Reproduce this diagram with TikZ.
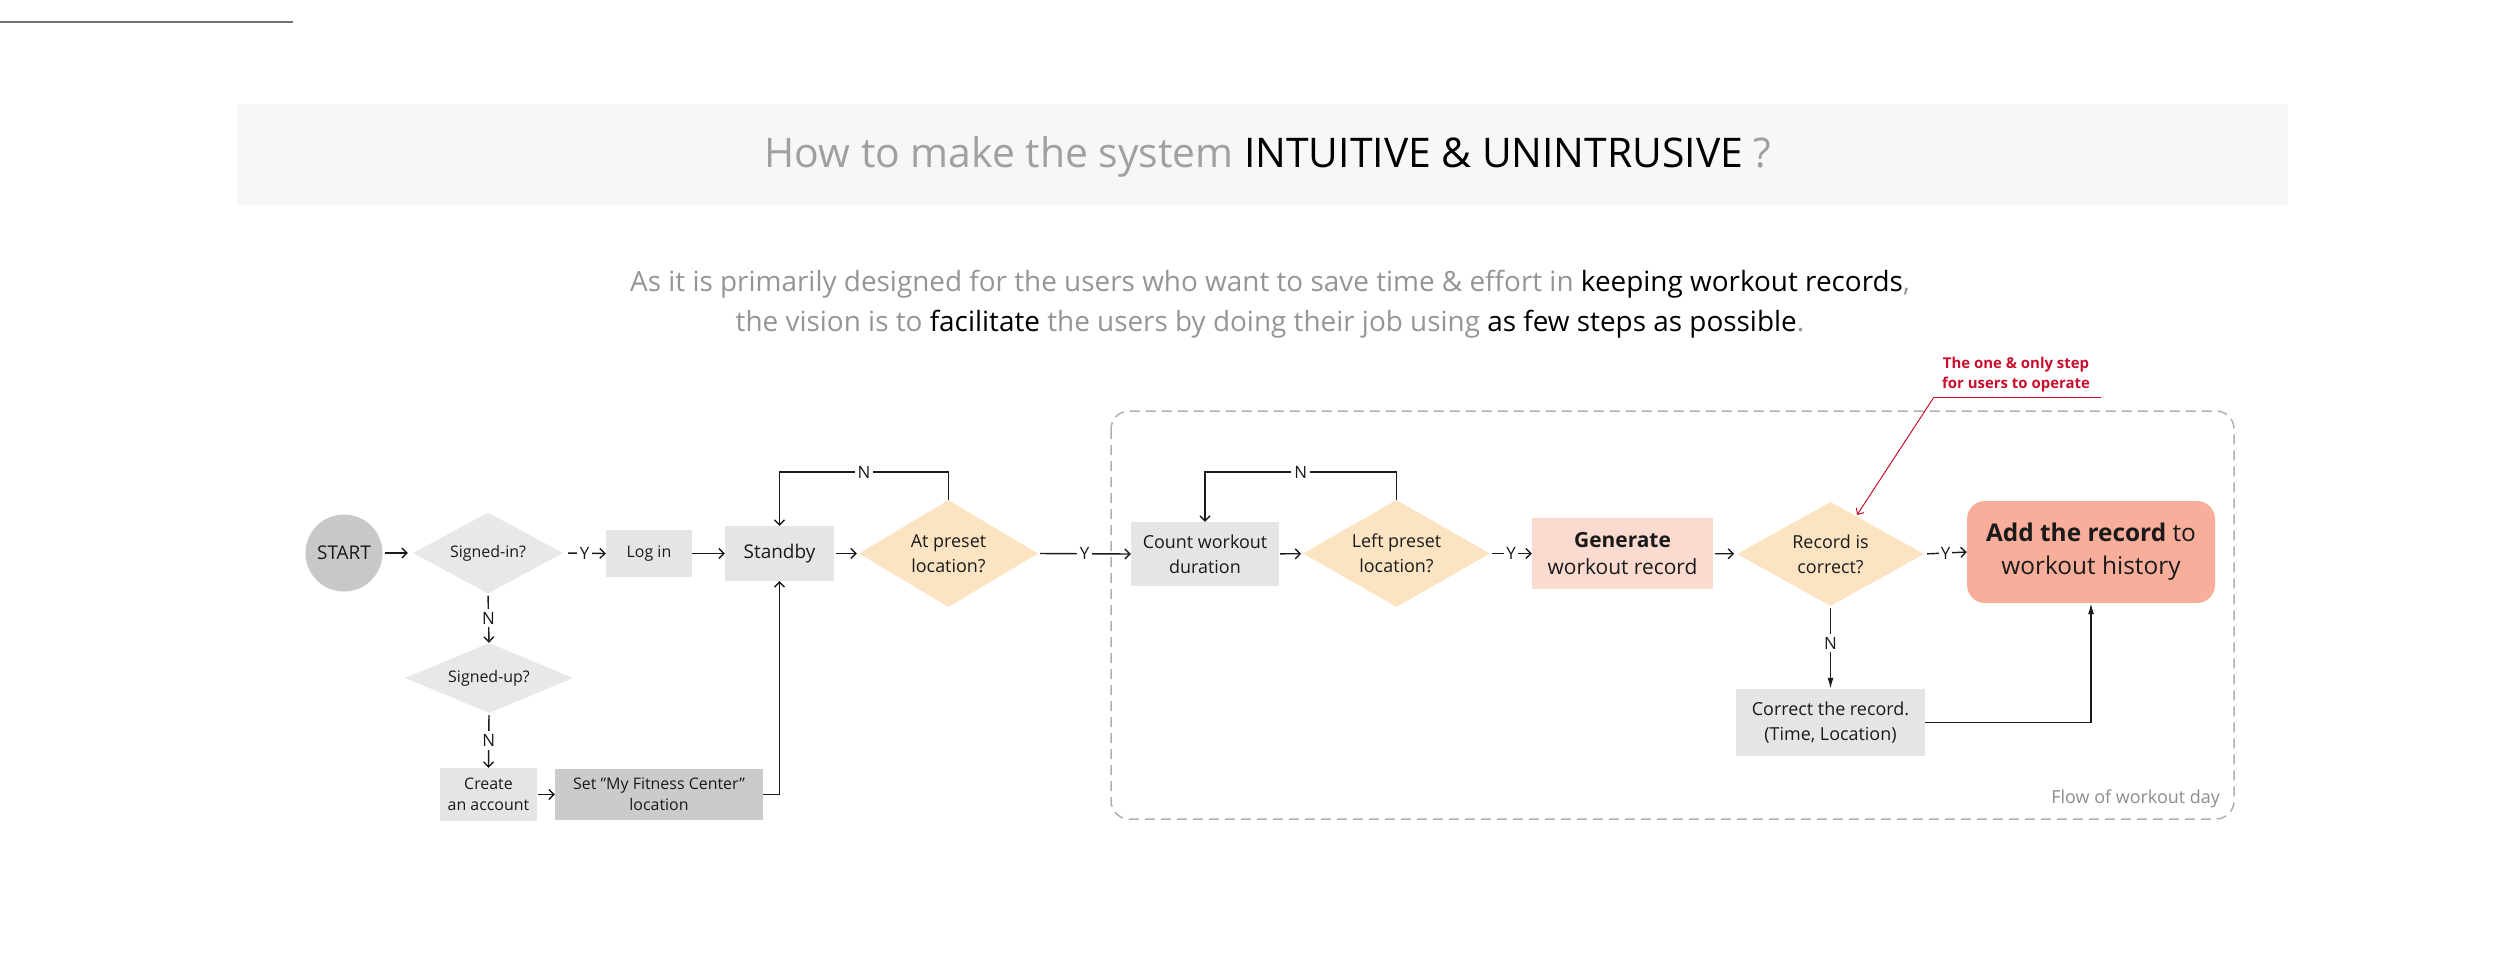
\documentclass[tikz,border=0pt]{standalone}
\usepackage{fontspec}
\setmainfont{Open Sans}
\usetikzlibrary{shapes.geometric,arrows.meta}
\definecolor{titlebg}{HTML}{F7F7F7}
\definecolor{ttlgray}{HTML}{A0A0A0}
\definecolor{subgray}{HTML}{959595}
\definecolor{ink}{HTML}{1A1A1A}
\definecolor{boxg}{HTML}{E5E5E5}
\definecolor{diag}{HTML}{E8E8E8}
\definecolor{darkbox}{HTML}{CBCBCB}
\definecolor{startg}{HTML}{C8C8C8}
\definecolor{peach}{HTML}{FCE4C2}
\definecolor{pinkbox}{HTML}{FBDACF}
\definecolor{salmon}{HTML}{F8AE9A}
\definecolor{annred}{HTML}{C8102E}
\definecolor{dashg}{HTML}{B0B0B0}
\definecolor{flowg}{HTML}{8C8C8C}
\newcommand\fsz[2]{\fontsize{#1}{#2}\selectfont}
\begin{document}
\begin{tikzpicture}[x=1bp,y=-1bp,
  base/.style={inner sep=0pt, align=center, text=ink},
  gbox/.style={base, rectangle, fill=boxg},
  dia/.style={base, diamond, fill=diag},
  arr/.style={line width=1.4bp, draw=ink, -{Straight Barb[length=5bp,width=10bp]}},
  farr/.style={line width=1.4bp, draw=ink, -{Latex[length=11bp,width=6bp]}},
  lbl/.style={fill=white, inner sep=3bp, text=ink, font=\fsz{17}{20}}]
\useasboundingbox (0,0) rectangle (2500,975);
% top-left rule
\coordinate (r1) at (0,22);
\coordinate (r2) at (293,22);
\draw[line width=2bp, draw=black!55] (r1) -- (r2);
% title band
\fill[titlebg] (237,104) rectangle (2288,206);
\node[base, anchor=base, font=\fsz{41}{48}] (title) at (1268,167)
  {\textcolor{ttlgray}{How to make the system} \textcolor{black}{INTUITIVE \& UNINTRUSIVE} \textcolor{ttlgray}{?}};
% subtitle
\node[base, font=\fsz{28}{40}, text=subgray] (sub) at (1270,304)
  {As it is primarily designed for the users who want to save time \& effort in \textcolor{black}{keeping workout records},\\
   the vision is to \textcolor{black}{facilitate} the users by doing their job using \textcolor{black}{as few steps as possible}.};
% dashed frame
\draw[dashg, line width=1.5bp, dash pattern=on 10bp off 6bp, rounded corners=18bp] (1111,411) rectangle (2234,819);
\node[base, anchor=east, text=flowg, font=\fsz{18}{22}] (flow) at (2220,799) {Flow of workout day};
% nodes
\node[base, circle, fill=startg, minimum size=77bp, font=\fsz{19}{22}] (start) at (344,553) {START};
\node[dia, minimum width=150bp, minimum height=81bp, aspect=1.85, font=\fsz{16}{20}] (si) at (488,553) {Signed-in?};
\node[gbox, minimum width=86bp, minimum height=47bp, font=\fsz{16}{20}] (login) at (649,553.5) {Log in};
\node[gbox, minimum width=109bp, minimum height=55bp, font=\fsz{19}{22}] (standby) at (779.5,553.5) {Standby};
\node[base, diamond, fill=peach, minimum width=179bp, minimum height=107bp, aspect=1.67, font=\fsz{18}{25}] (atp) at (948.5,553.5) {At preset\\location?};
\node[gbox, minimum width=148bp, minimum height=64bp, font=\fsz{18}{25}] (count) at (1205,554) {Count workout\\duration};
\node[base, diamond, fill=peach, minimum width=187bp, minimum height=107bp, aspect=1.75, font=\fsz{18}{25}] (lp) at (1396.5,553.5) {Left preset\\location?};
\node[base, rectangle, fill=pinkbox, minimum width=181bp, minimum height=71bp, font=\fsz{21}{28}] (gen) at (1622.5,553.5) {\textbf{Generate}\\workout record};
\node[base, diamond, fill=peach, minimum width=187bp, minimum height=104bp, aspect=1.8, font=\fsz{18}{25}] (rec) at (1830.5,554) {Record is\\correct?};
\node[base, rectangle, rounded corners=18bp, fill=salmon, minimum width=248bp, minimum height=102bp, font=\fsz{24.5}{33}] (add) at (2091,552) {\textbf{Add the record} to\\workout history};
\node[gbox, minimum width=189bp, minimum height=67bp, font=\fsz{18}{25}] (corr) at (1830.5,722.5) {Correct the record.\\(Time, Location)};
\node[dia, minimum width=168bp, minimum height=70bp, aspect=2.4, font=\fsz{16}{20}] (su) at (489,678) {Signed-up?};
\node[gbox, minimum width=97bp, minimum height=53bp, font=\fsz{16}{21}] (create) at (488.5,794.5) {Create\\an account};
\node[base, rectangle, fill=darkbox, minimum width=208bp, minimum height=51bp, font=\fsz{16}{21}] (setloc) at (659,794.5) {Set "My Fitness Center"\\location};
% annotation
\node[base, text=annred, font=\bfseries\fsz{15}{20}] (ann) at (2016,375) {The one \& only step\\for users to operate};
\coordinate (ul1) at (1934,397);
\coordinate (ul2) at (2101,397);
\coordinate (tip) at (1857,515);
\draw[annred, line width=1bp] (ul1) -- (ul2);
\draw[annred, line width=1bp, -{Straight Barb[length=5bp,width=9bp]}] (ul1) -- (tip);
% connectors
\draw[arr, shorten <=2bp, shorten >=5bp] (start) -- (si);
\draw[arr, shorten <=5bp] (si.east) -- node[lbl]{Y} (login.west);
\draw[arr] (login) -- (standby);
\draw[arr, shorten <=2bp, shorten >=2bp] (standby) -- (atp);
\draw[arr, shorten <=2bp] (atp.east) -- node[lbl]{Y} (count.west);
\draw[arr, shorten <=1bp, shorten >=2bp] (count) -- (lp);
\draw[arr, shorten <=2bp] (lp.east) -- node[lbl, inner sep=2bp]{Y} (gen.west);
\draw[arr, shorten <=2bp, shorten >=3bp] (gen) -- (rec);
\draw[arr, shorten <=3bp] (rec.east) -- node[lbl, inner sep=2bp]{Y} (add.west);
\draw[arr, shorten <=2bp] (si.south) -- node[lbl]{N} (su.north);
\draw[arr, shorten <=2bp] (su.south) -- node[lbl]{N} (create.north);
\draw[arr, shorten <=1bp] (create) -- (setloc);
\draw[farr, shorten <=2bp] (rec.south) -- node[lbl, pos=0.45]{N} (corr.north);
\draw[farr] (corr.east) -| (add.south);
\draw[arr] (setloc.east) -| (standby.south);
\coordinate (loopA) at (0,472);
\draw[arr] (atp.north) -- (atp.north |- loopA) -- node[lbl]{N} (standby.north |- loopA) -- (standby.north);
\draw[arr] (lp.north) -- (lp.north |- loopA) -- node[lbl]{N} (count.north |- loopA) -- (count.north);
\end{tikzpicture}
\end{document}
